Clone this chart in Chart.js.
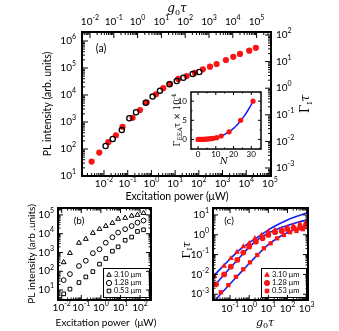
<!DOCTYPE html>
<html>
<head>
<meta charset="utf-8">
<script src="https://cdn.jsdelivr.net/npm/chart.js@4.4.1/dist/chart.umd.min.js"></script>
<style>
  body { margin: 0; background: #fff; width: 339px; height: 331px; position: relative; overflow: hidden; }
  canvas { position: absolute; }
</style>
</head>
<body>
<canvas id="chartA" width="339" height="205" style="left:0;top:0"></canvas>
<canvas id="chartInset" width="110" height="85" style="left:160px;top:85px"></canvas>
<canvas id="chartB" width="170" height="131" style="left:0;top:200px"></canvas>
<canvas id="chartC" width="169" height="131" style="left:170px;top:200px"></canvas>
<script>
// ---------- data ----------
// (a) open circles: PL intensity vs excitation power (bottom / left axes)
const powerA = [0.0117, 0.0234, 0.0562, 0.117, 0.224, 0.575, 1.12, 2.29, 5.75, 11.7, 22.4, 55, 105];
const plA = [129, 234, 501, 1380, 2290, 5130, 8710, 14500, 25100, 33100, 43600, 60300, 70800];
// (a) red dots: Gamma_I tau vs g0 tau (top / right axes)
const g0tauA = [0.0117, 0.0245, 0.0589, 0.123, 0.234, 0.617, 1.26, 2.40, 5.89, 12.0, 22.9, 51.3, 115, 257, 550, 1100, 2090, 5130, 10500, 20000, 49000, 93300];
const gammaA = [0.00174, 0.0038, 0.00933, 0.017, 0.0355, 0.0776, 0.151, 0.295, 0.589, 1.0, 1.45, 2.24, 2.88, 3.80, 5.13, 6.46, 8.13, 11.5, 15.1, 19.5, 25.7, 33.1];
// inset: Gamma_EEA tau x 1e-4 vs N
const nInset = [0, 0.7, 1.4, 2.1, 2.8, 3.5, 4.3, 5.2, 6.2, 7.3, 8.6, 10.5, 13, 17.5, 24, 31];
const eeaInset = [0, 0, 0, 0, 0.05, 0.05, 0.1, 0.1, 0.15, 0.2, 0.3, 0.45, 0.9, 2.0, 5.0, 10.0];
const nFit = [12, 14, 16, 18, 20, 22, 24, 26, 28, 30, 31];
const eeaFit = [0.7, 1.1, 1.6, 2.2, 2.9, 3.8, 4.9, 6.1, 7.5, 9.1, 10.0];

// (b) PL intensity vs power for three sizes
const powerB = [0.0126, 0.0263, 0.0759, 0.170, 0.389, 0.851, 1.78, 3.89, 7.59, 17.4, 37.2, 74.1, 151];
const plB310 = [300, 933, 3240, 5250, 11000, 17800, 25700, 37200, 61700, 69200, 89100, 100000, 126000];
const plB128 = [33.9, 70.8, 191, 363, 912, 1480, 3310, 6460, 11500, 17400, 25700, 38900, 50100];
const plB053 = [6.3, 11.2, 25.1, 50.1, 95.5, 240, 479, 1170, 2000, 4470, 6610, 13200, 16200];

// (c) Gamma_I tau vs g0 tau, markers and fits
const g0tauC310 = [0.0158, 0.049, 0.11, 0.229, 0.49, 1, 2.0, 4.47, 10, 21.9, 49, 95.5, 200, 447, 891];
const gammaC310 = [0.00794, 0.0263, 0.0646, 0.135, 0.251, 0.372, 0.661, 0.977, 1.45, 1.74, 1.95, 2.29, 2.82, 3.55, 4.17];
const g0tauC128 = [0.0186, 0.049, 0.11, 0.24, 0.49, 1, 2.24, 5.01, 10, 22.4, 50.1, 97.7, 214, 447, 891];
const gammaC128 = [0.00316, 0.01, 0.0245, 0.0537, 0.126, 0.251, 0.447, 0.661, 0.977, 1.35, 1.55, 1.95, 2.14, 2.29, 2.82];
const g0tauC053 = [0.0331, 0.0813, 0.204, 0.49, 1.1, 2.63, 5.89, 13.2, 28.8, 64.6, 135, 295, 631];
const gammaC053 = [0.00126, 0.00288, 0.00759, 0.0182, 0.0407, 0.0955, 0.209, 0.372, 0.661, 0.977, 1.35, 1.55, 1.91];
const fitX = [0.0129, 0.0316, 0.1, 0.316, 1, 3.16, 10, 31.6, 100, 316, 1175];
const fit310 = [0.00794, 0.0191, 0.0603, 0.174, 0.398, 0.832, 1.78, 3.31, 5.62, 8.51, 13.2];
const fit128 = [0.00224, 0.00603, 0.0209, 0.0708, 0.240, 0.631, 1.20, 2.0, 2.95, 4.17, 5.75];
const fit053 = [0.000355, 0.001, 0.00331, 0.011, 0.0355, 0.112, 0.316, 0.708, 1.26, 2.0, 3.16];

const sizeLabels = ['3.10 \u03bcm', '1.28 \u03bcm', '0.53 \u03bcm'];

// tick labels (decade exponents / linear values)
const expPowerA = [-2, -1, 0, 1, 2, 3, 4, 5];
const expG0A = [-2, -1, 0, 1, 2, 3, 4, 5];
const expPlA = [1, 2, 3, 4, 5, 6];
const expGammaA = [-3, -2, -1, 0, 1, 2];
const insetN = [0, 10, 20, 30];
const insetEEA = [0, 5, 10];
const expPowerB = [-2, -1, 0, 1, 2];
const expPlB = [1, 2, 3, 4, 5];
const expG0C = [-1, 0, 1, 2, 3];
const expGammaC = [-3, -2, -1, 0, 1];

// ---------- helpers ----------
const SANS = 'Lato, "Liberation Sans", sans-serif';
const SERIF = '"DejaVu Serif", "Liberation Serif", serif';
const RED = 'rgb(250,20,20)';
const BLUE = 'rgb(20,30,240)';

function pts(xs, ys) {
  return xs.map(function (x, i) { return { x: x, y: ys[i] }; });
}

// draw a run of text pieces (for sub/superscripts), optionally rotated
function rich(ctx, x, y, parts, align, rot) {
  ctx.save();
  ctx.translate(x, y);
  if (rot) ctx.rotate(rot);
  var w = 0;
  parts.forEach(function (p) { ctx.font = p.f; p.w = ctx.measureText(p.t).width; w += p.w; });
  var cx = align === 'right' ? -w : align === 'center' ? -w / 2 : 0;
  ctx.textAlign = 'left';
  ctx.textBaseline = 'middle';
  ctx.fillStyle = '#000';
  parts.forEach(function (p) { ctx.font = p.f; ctx.fillText(p.t, cx, p.dy || 0); cx += p.w; });
  ctx.restore();
}

function plain(t, size) { return [{ t: t, f: size + 'px ' + SANS }]; }
function pow10(e, size) {
  return [{ t: '10', f: size + 'px ' + SANS }, { t: e < 0 ? '-' + (-e) : String(e), f: Math.round(size * 0.7) + 'px ' + SANS, dy: -size * 0.4 }];
}
function g0tau(size) {
  return [{ t: 'g', f: 'italic ' + size + 'px ' + SERIF }, { t: '0', f: Math.round(size * 0.7) + 'px ' + SERIF, dy: size * 0.3 },
          { t: '\u03c4', f: 'italic ' + size + 'px ' + SERIF }];
}
function gammaI(size) {
  return [{ t: '\u0393', f: size + 'px ' + SERIF }, { t: 'I', f: Math.round(size * 0.7) + 'px ' + SERIF, dy: size * 0.3 },
          { t: '\u03c4', f: 'italic ' + size + 'px ' + SERIF }];
}

function tickList(sc, s) {
  var out = [];
  if (s.log) {
    var lo = Math.floor(Math.log10(sc.min)), hi = Math.ceil(Math.log10(sc.max));
    for (var e = lo; e <= hi; e++) {
      for (var m = 1; m < 10; m++) {
        var v = m * Math.pow(10, e);
        if (v >= sc.min && v <= sc.max) out.push({ v: v, major: m === 1 });
      }
    }
  } else {
    var start = Math.ceil(sc.min / s.minor) * s.minor;
    for (var v2 = start; v2 <= sc.max; v2 += s.minor) {
      out.push({ v: v2, major: Math.abs(v2 / s.step - Math.round(v2 / s.step)) < 1e-6 });
    }
  }
  return out;
}

// frame, inward ticks, tick labels, titles and legend
const axesPlugin = {
  id: 'axes',
  beforeDatasetsDraw: function (chart, args, o) {
    var a = chart.chartArea, ctx = chart.ctx;
    if (o.fill) { ctx.fillStyle = '#fff'; ctx.fillRect(a.left, a.top, a.right - a.left, a.bottom - a.top); }
  },
  afterDatasetsDraw: function (chart, args, o) {
    var ctx = chart.ctx, a = chart.chartArea;
    ctx.save();
    ctx.strokeStyle = '#000';
    o.sides.forEach(function (s) {
      var sc = chart.scales[s.id];
      ctx.lineWidth = o.tw;
      tickList(sc, s).forEach(function (t) {
        var p = sc.getPixelForValue(t.v);
        var len = t.major ? o.major : o.minor;
        ctx.beginPath();
        if (s.side === 'bottom') { ctx.moveTo(p, a.bottom); ctx.lineTo(p, a.bottom - len); }
        if (s.side === 'top') { ctx.moveTo(p, a.top); ctx.lineTo(p, a.top + len); }
        if (s.side === 'left') { ctx.moveTo(a.left, p); ctx.lineTo(a.left + len, p); }
        if (s.side === 'right') { ctx.moveTo(a.right, p); ctx.lineTo(a.right - len, p); }
        ctx.stroke();
      });
      (s.labels || []).forEach(function (l) {
        var p = sc.getPixelForValue(s.log ? Math.pow(10, l) : l);
        var parts = s.log ? pow10(l, o.size) : plain(String(l), o.size);
        if (s.side === 'bottom') rich(ctx, p, a.bottom + s.pad, parts, 'center');
        if (s.side === 'top') rich(ctx, p, a.top - s.pad, parts, 'center');
        if (s.side === 'left') rich(ctx, a.left - s.pad, p, parts, 'right');
        if (s.side === 'right') rich(ctx, a.right + s.pad, p, parts, 'left');
      });
    });
    ctx.lineWidth = o.lw;
    ctx.strokeRect(a.left, a.top, a.right - a.left, a.bottom - a.top);

    if (o.legend) {
      var L = o.legend;
      ctx.lineWidth = 1;
      ctx.strokeRect(L.box[0] - o.dx + 0.5, L.box[1] - o.dy + 0.5, L.box[2] - L.box[0], L.box[3] - L.box[1]);
      L.items.forEach(function (it, i) {
        ctx.fillStyle = it.fill;
        ctx.strokeStyle = it.stroke;
        Chart.helpers.drawPoint(ctx, { pointStyle: it.style, radius: 2.6, borderWidth: 1, rotation: 0 }, L.mx - o.dx, L.ys[i] - o.dy);
        rich(ctx, L.tx - o.dx, L.ys[i] - o.dy, plain(it.text, 7.5), 'left');
      });
    }
    (o.texts || []).forEach(function (t) { rich(ctx, t.x - o.dx, t.y - o.dy, t.parts, t.align || 'center', t.rot); });
    ctx.restore();
  }
};

function logAxis(min, max, pos) {
  return { type: 'logarithmic', display: false, min: min, max: max, position: pos };
}
function baseOptions(padding, scales, axes) {
  return {
    responsive: false, animation: false, events: [],
    layout: { padding: padding },
    scales: scales,
    plugins: { legend: { display: false }, tooltip: { enabled: false }, axes: axes }
  };
}

// ---------- panel (a) ----------
new Chart(document.getElementById('chartA'), {
  type: 'scatter',
  data: {
    datasets: [
      { data: pts(powerA, plA), xAxisID: 'x', yAxisID: 'y', pointStyle: 'circle', pointRadius: 2.6,
        backgroundColor: 'rgba(0,0,0,0)', borderColor: '#000', borderWidth: 1.3 },
      { data: pts(g0tauA, gammaA), xAxisID: 'x2', yAxisID: 'y2', pointStyle: 'circle', pointRadius: 3.1,
        backgroundColor: RED, borderColor: RED, borderWidth: 0 }
    ]
  },
  plugins: [axesPlugin],
  options: baseOptions({ left: 82, right: 68, top: 32, bottom: 29 }, {
    x: logAxis(0.00118, 111000, 'bottom'),
    x2: logAxis(0.00461, 403000, 'top'),
    y: logAxis(10, 2150000, 'left'),
    y2: logAxis(0.0005, 129.7, 'right')
  }, {
    dx: 0, dy: 0, lw: 2, tw: 1, major: 6, minor: 3, size: 10,
    sides: [
      { id: 'x', side: 'bottom', log: true, labels: expPowerA, pad: 8 },
      { id: 'x2', side: 'top', log: true, labels: expG0A, pad: 10 },
      { id: 'y', side: 'left', log: true, labels: expPlA, pad: 6 },
      { id: 'y2', side: 'right', log: true, labels: expGammaA, pad: 5 }
    ],
    texts: [
      { x: 177, y: 9, parts: g0tau(12) },
      { x: 177, y: 197, parts: plain('Excitation power (\u03bcW)', 10.5) },
      { x: 48, y: 104, parts: plain('PL intensity (arb. units)', 10.5), rot: -Math.PI / 2 },
      { x: 306, y: 104, parts: gammaI(12), rot: -Math.PI / 2 },
      { x: 101, y: 49, parts: plain('(a)', 10.5) }
    ]
  })
});

// ---------- inset ----------
new Chart(document.getElementById('chartInset'), {
  type: 'scatter',
  data: {
    datasets: [
      { data: pts(nInset, eeaInset), pointStyle: 'circle', pointRadius: 2.6,
        backgroundColor: RED, borderColor: RED, borderWidth: 0 },
      { data: pts(nFit, eeaFit), showLine: true, pointRadius: 0, borderColor: BLUE, borderWidth: 1.5,
        cubicInterpolationMode: 'monotone' }
    ]
  },
  plugins: [axesPlugin],
  options: baseOptions({ left: 31, right: 9, top: 7, bottom: 21 }, {
    x: { type: 'linear', display: false, min: -4, max: 35.5 },
    y: { type: 'linear', display: false, min: -2.5, max: 12.4 }
  }, {
    dx: 160, dy: 85, fill: true, lw: 1.5, tw: 1, major: 3, minor: 1.5, size: 8,
    sides: [
      { id: 'x', side: 'bottom', step: 10, minor: 5, labels: insetN, pad: 5 },
      { id: 'x', side: 'top', step: 10, minor: 5 },
      { id: 'y', side: 'left', step: 5, minor: 2.5, labels: insetEEA, pad: 4 },
      { id: 'y', side: 'right', step: 5, minor: 2.5 }
    ],
    texts: [
      { x: 224, y: 162, parts: [{ t: 'N', f: 'italic 9px ' + SERIF }] },
      { x: 178, y: 120, rot: -Math.PI / 2, parts: [
        { t: '\u0393', f: '8.5px ' + SERIF }, { t: 'EEA', f: '6px ' + SERIF, dy: 2.5 },
        { t: '\u03c4 \u00d7 10', f: '8.5px ' + SERIF }, { t: '-4', f: '6px ' + SERIF, dy: -3.5 }] }
    ]
  })
});

// ---------- panel (b) ----------
new Chart(document.getElementById('chartB'), {
  type: 'scatter',
  data: {
    datasets: [
      { data: pts(powerB, plB310), pointStyle: 'triangle', pointRadius: 2.8, backgroundColor: 'rgba(0,0,0,0)', borderColor: '#000', borderWidth: 1 },
      { data: pts(powerB, plB128), pointStyle: 'circle', pointRadius: 2.4, backgroundColor: 'rgba(0,0,0,0)', borderColor: '#000', borderWidth: 1 },
      { data: pts(powerB, plB053), pointStyle: 'rect', pointRadius: 2.6, backgroundColor: 'rgba(0,0,0,0)', borderColor: '#000', borderWidth: 1 }
    ]
  },
  plugins: [axesPlugin],
  options: baseOptions({ left: 58, right: 19, top: 8, bottom: 31 }, {
    x: logAxis(0.00646, 363, 'bottom'),
    y: logAxis(2.95, 234000, 'left')
  }, {
    dx: 0, dy: 200, lw: 2, tw: 1, major: 5, minor: 2.5, size: 10,
    sides: [
      { id: 'x', side: 'bottom', log: true, labels: expPowerB, pad: 8 },
      { id: 'x', side: 'top', log: true },
      { id: 'y', side: 'left', log: true, labels: expPlB, pad: 4 },
      { id: 'y', side: 'right', log: true }
    ],
    legend: {
      box: [103, 268, 149, 297], mx: 109, tx: 114, ys: [275, 283, 291],
      items: [
        { style: 'triangle', fill: '#fff', stroke: '#000', text: sizeLabels[0] },
        { style: 'circle', fill: '#fff', stroke: '#000', text: sizeLabels[1] },
        { style: 'rect', fill: '#fff', stroke: '#000', text: sizeLabels[2] }
      ]
    },
    texts: [
      { x: 79, y: 221, parts: plain('(b)', 10) },
      { x: 32, y: 254, parts: plain('PL intensity (arb .units)', 10), rot: -Math.PI / 2 },
      { x: 106, y: 323, parts: plain('Excitation power  (\u03bcW)', 10) }
    ]
  })
});

// ---------- panel (c) ----------
new Chart(document.getElementById('chartC'), {
  type: 'scatter',
  data: {
    datasets: [
      { data: pts(g0tauC310, gammaC310), pointStyle: 'triangle', pointRadius: 3.3, backgroundColor: RED, borderColor: RED, borderWidth: 0 },
      { data: pts(g0tauC128, gammaC128), pointStyle: 'circle', pointRadius: 2.9, backgroundColor: RED, borderColor: RED, borderWidth: 0 },
      { data: pts(g0tauC053, gammaC053), pointStyle: 'rect', pointRadius: 3, backgroundColor: RED, borderColor: RED, borderWidth: 0 },
      { data: pts(fitX, fit310), showLine: true, pointRadius: 0, borderColor: BLUE, borderWidth: 1.6, cubicInterpolationMode: 'monotone' },
      { data: pts(fitX, fit128), showLine: true, pointRadius: 0, borderColor: BLUE, borderWidth: 1.6, cubicInterpolationMode: 'monotone' },
      { data: pts(fitX, fit053), showLine: true, pointRadius: 0, borderColor: BLUE, borderWidth: 1.6, cubicInterpolationMode: 'monotone' }
    ]
  },
  plugins: [axesPlugin],
  options: baseOptions({ left: 43, right: 31, top: 8, bottom: 31 }, {
    x: logAxis(0.0129, 1175, 'bottom'),
    y: logAxis(0.000513, 22.4, 'left')
  }, {
    dx: 170, dy: 200, lw: 2, tw: 1, major: 5, minor: 2.5, size: 10,
    sides: [
      { id: 'x', side: 'bottom', log: true, labels: expG0C, pad: 9 },
      { id: 'x', side: 'top', log: true },
      { id: 'y', side: 'left', log: true, labels: expGammaC, pad: 4 },
      { id: 'y', side: 'right', log: true }
    ],
    legend: {
      box: [261, 268, 306, 297], mx: 267, tx: 272, ys: [275, 283, 291],
      items: [
        { style: 'triangle', fill: RED, stroke: RED, text: sizeLabels[0] },
        { style: 'circle', fill: RED, stroke: RED, text: sizeLabels[1] },
        { style: 'rect', fill: RED, stroke: RED, text: sizeLabels[2] }
      ]
    },
    texts: [
      { x: 229, y: 221, parts: plain('(c)', 10) },
      { x: 187, y: 250, parts: gammaI(11), rot: -Math.PI / 2 },
      { x: 265, y: 323, parts: g0tau(11) }
    ]
  })
});
</script>
</body>
</html>
